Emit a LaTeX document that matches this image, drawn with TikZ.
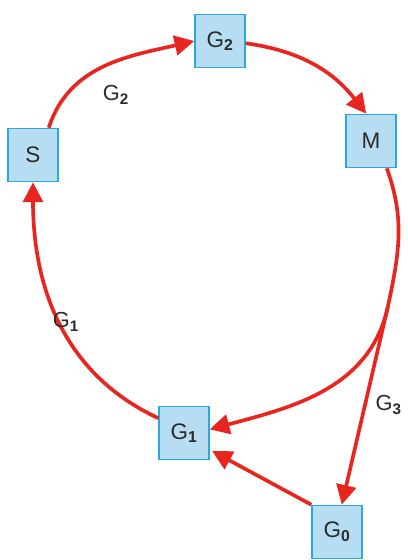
\documentclass[tikz,border=0pt]{standalone}
\usepackage{fontspec}
\setmainfont{Liberation Sans}
\usepackage{xcolor}
\usetikzlibrary{arrows.meta,positioning}
\definecolor{cycred}{HTML}{E8251F}
\definecolor{boxblue}{HTML}{29A9E0}
\definecolor{boxfill}{HTML}{B6DDF2}
\definecolor{ink}{HTML}{2B2B2B}

\begin{document}
\begin{tikzpicture}[x=0.025cm,y=-0.025cm,
  st/.style={draw=boxblue,fill=boxfill,line width=1pt,minimum width=1.25cm,minimum height=1.33cm,
    inner sep=0pt,font=\fontsize{16}{18}\selectfont,text=ink},
  lbl/.style={font=\fontsize{15.5}{18}\selectfont,text=ink,inner sep=1pt},
  arr/.style={-{Triangle[length=14pt,width=14pt]},draw=cycred,line width=2.6pt}]
\fill[white] (0,0) rectangle (401,560);
\node[st] (s) at (33,155) {S};
\node[st] (g2) at (220,41) {G\textsubscript{\textbf{2}}};
\node[st] (m) at (371,141) {M};
\node[st] (g1) at (184,433) {G\textsubscript{\textbf{1}}};
\node[st] (g0) at (337,532) {G\textsubscript{\textbf{0}}};
\coordinate (split) at (388,306);
\draw[arr] (s.60) to[out=72,in=193] (g2.west);
\draw[arr] (g2.-5) to[out=-8,in=128] (m.100);
\draw[arr] (m.-60) to[out=-70,in=78] (split) to[out=-102,in=15] (g1.8);
\draw[arr] (split) -- (g0.80);
\draw[arr] (g1.150) to[out=155,in=-90] (s.south);
\draw[arr,shorten >=2pt] (g0.north west) -- (g1.-33);
\node[lbl] (l2) at (116,95) {G\textsubscript{\textbf{2}}};
\node[lbl] (l1) at (66,322) {G\textsubscript{\textbf{1}}};
\node[lbl,anchor=west] (l3) at (374,405) {G\textsubscript{\textbf{3}}};
\end{tikzpicture}
\end{document}
